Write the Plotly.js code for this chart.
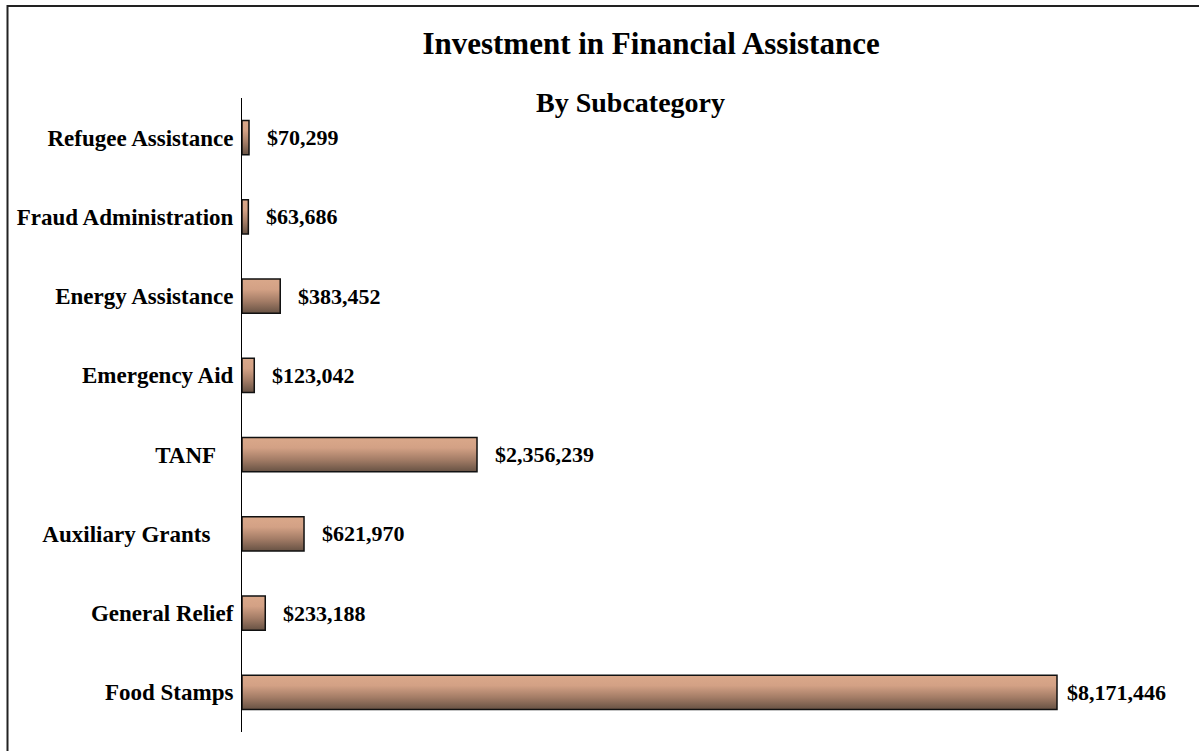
<!DOCTYPE html>
<html>
<head>
<meta charset="utf-8">
<script src="https://cdn.plot.ly/plotly-3.0.1.min.js"></script>
<style>
  html, body { margin: 0; padding: 0; background: #fff; overflow: hidden; }
  #chart { width: 1199px; height: 751px; }
</style>
</head>
<body>
<div id="chart"></div>
<script>
// ---- data ----
const categories = [
  "Food Stamps",
  "General Relief",
  "Auxiliary Grants\u00a0\u00a0\u00a0\u00a0",
  "TANF\u00a0\u00a0\u00a0",
  "Emergency Aid",
  "Energy Assistance",
  "Fraud Administration",
  "Refugee Assistance"
];
const values = [8171446, 233188, 621970, 2356239, 123042, 383452, 63686, 70299];
const chartTitle = "Investment in Financial Assistance";
const chartSubtitle = "By Subcategory";

// ---- styling ----
const serif = "Liberation Serif, Times New Roman, serif";
const maxVal = Math.max(...values);

const labelAnnotations = values.map((v, i) => ({
  x: v,
  y: categories[i],
  xref: "x",
  yref: "y",
  text: "$" + v.toLocaleString("en-US"),
  showarrow: false,
  xanchor: "left",
  yanchor: "middle",
  xshift: v === maxVal ? 8 : 16,
  font: { family: serif, size: 22, weight: 700, color: "#000" }
}));

const trace = {
  type: "bar",
  orientation: "h",
  x: values,
  y: categories,
  marker: { color: "#C89478", line: { color: "#111", width: 1.5 } },
  hoverinfo: "none",
  cliponaxis: false
};

const layout = {
  width: 1199,
  height: 751,
  paper_bgcolor: "#fff",
  plot_bgcolor: "#fff",
  showlegend: false,
  margin: { l: 242, r: 19, t: 98, b: 19, pad: 0 },
  bargap: 0.57,
  title: {
    text: chartTitle,
    xref: "container",
    yref: "container",
    x: 0.543,
    xanchor: "center",
    y: 1 - 43 / 751,
    yanchor: "middle",
    font: { family: serif, size: 31, weight: 700, color: "#000" }
  },
  xaxis: {
    visible: false,
    range: [0, 9404640],
    fixedrange: true
  },
  yaxis: {
    type: "category",
    showline: true,
    linecolor: "#000",
    linewidth: 1,
    ticks: "",
    showgrid: false,
    zeroline: false,
    ticklabelstandoff: 3,
    tickfont: { family: serif, size: 23, weight: 700, color: "#000" },
    fixedrange: true
  },
  annotations: [
    {
      text: chartSubtitle,
      xref: "paper",
      yref: "paper",
      x: (630 - 242) / 938,
      y: (732 - 103) / 634,
      xanchor: "center",
      yanchor: "middle",
      showarrow: false,
      font: { family: serif, size: 28, weight: 700, color: "#000" }
    }
  ].concat(labelAnnotations),
  shapes: [
    {
      type: "rect",
      xref: "paper",
      yref: "paper",
      x0: (7.5 - 242) / 938,
      x1: (1210 - 242) / 938,
      y0: (732 - 770) / 634,
      y1: (732 - 6) / 634,
      line: { color: "#222", width: 2 },
      fillcolor: "rgba(0,0,0,0)",
      layer: "below"
    }
  ]
};

function applyGradient(gd) {
  const svg = gd.querySelector("svg.main-svg");
  if (!svg) return;
  const ns = "http://www.w3.org/2000/svg";
  let defs = svg.querySelector("defs");
  if (!defs) { defs = document.createElementNS(ns, "defs"); svg.insertBefore(defs, svg.firstChild); }
  if (!svg.querySelector("#barGrad")) {
    const lg = document.createElementNS(ns, "linearGradient");
    lg.setAttribute("id", "barGrad");
    lg.setAttribute("x1", "0"); lg.setAttribute("y1", "0");
    lg.setAttribute("x2", "0"); lg.setAttribute("y2", "1");
    [["0%", "#DAA88A"], ["30%", "#D3A185"], ["65%", "#A37C66"], ["100%", "#675244"]].forEach(([o, c]) => {
      const s = document.createElementNS(ns, "stop");
      s.setAttribute("offset", o);
      s.setAttribute("stop-color", c);
      lg.appendChild(s);
    });
    defs.appendChild(lg);
  }
  gd.querySelectorAll(".barlayer .point path").forEach(p => {
    p.style.fill = "url(#barGrad)";
  });
}

const gd = document.getElementById("chart");
Plotly.newPlot(gd, [trace], layout, { staticPlot: true, displayModeBar: false }).then(() => {
  applyGradient(gd);
  gd.on && gd.on("plotly_afterplot", () => applyGradient(gd));
});
</script>
</body>
</html>
